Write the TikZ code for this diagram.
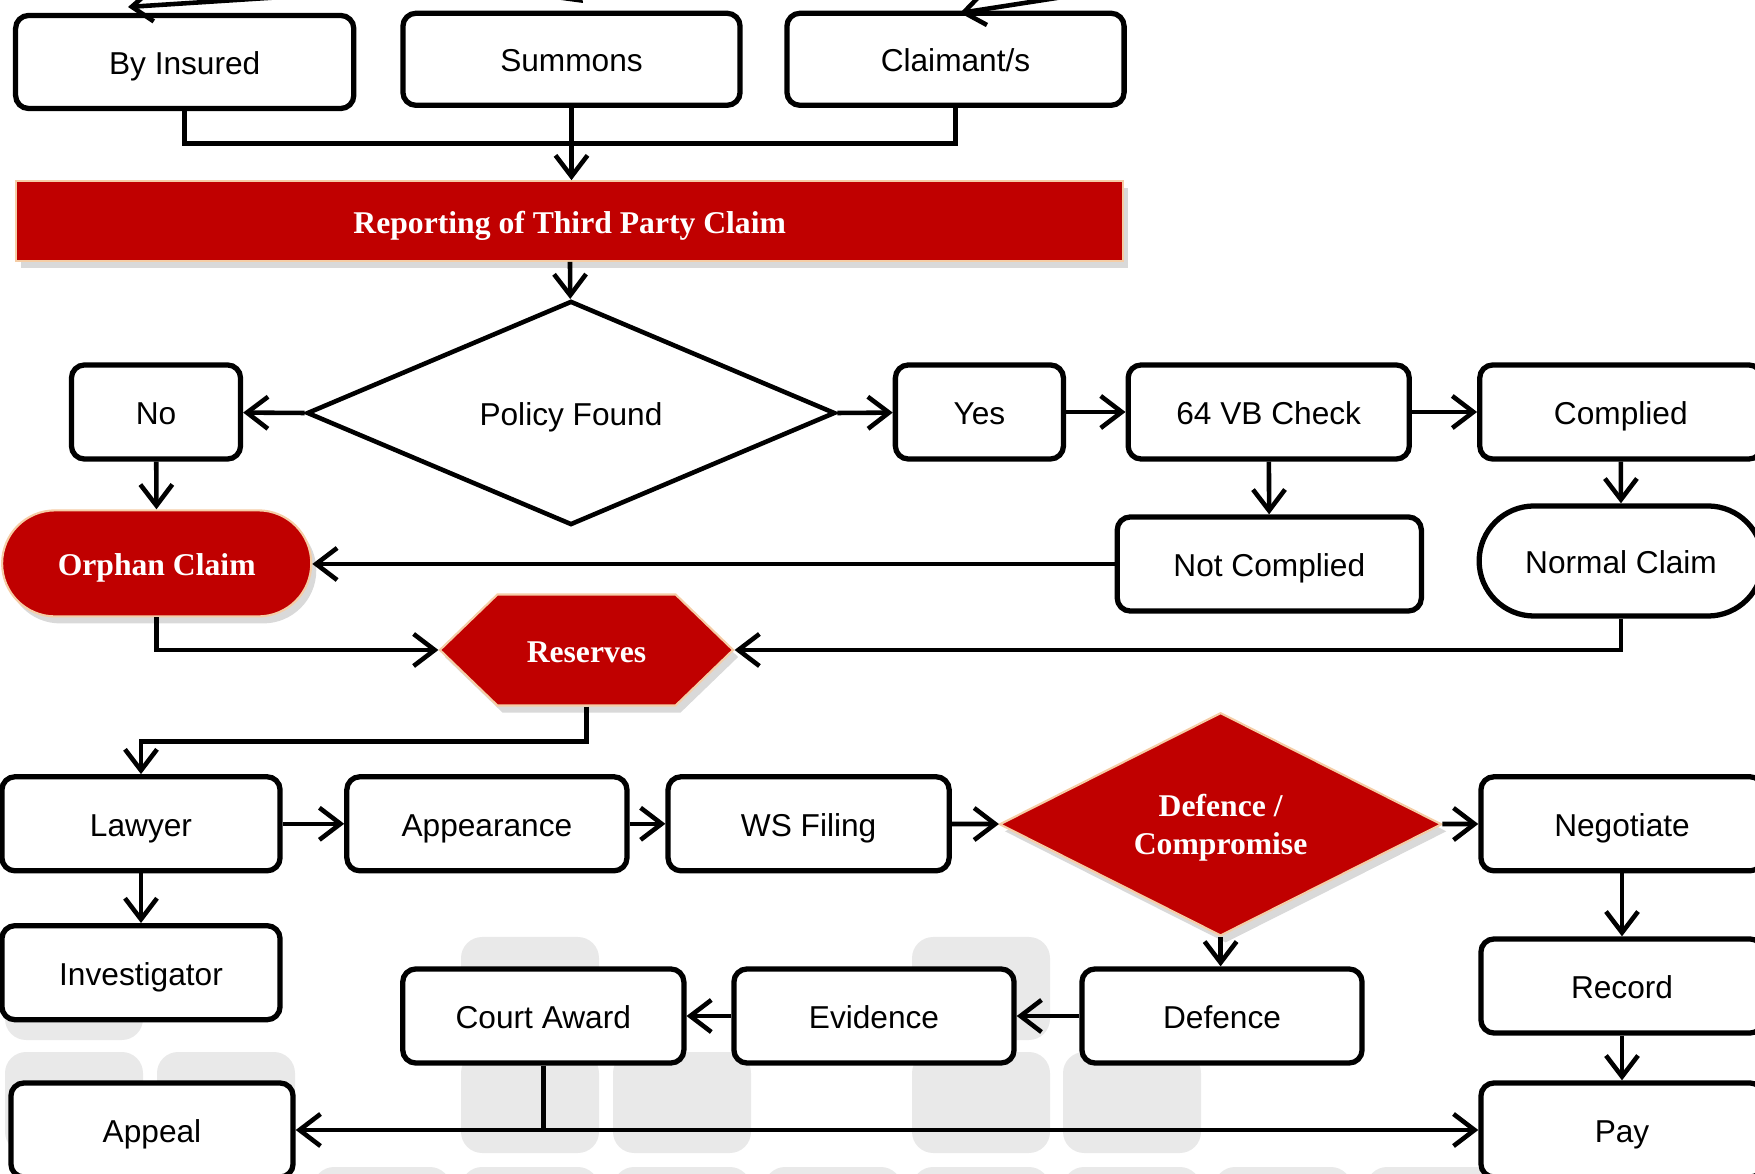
\documentclass[tikz,border=0pt]{standalone}
\usepackage{fontspec}
\setmainfont{Liberation Sans}
\newfontfamily\titlefont{Liberation Serif}
\usetikzlibrary{arrows.meta,positioning,shapes.geometric,shapes.misc,shapes.symbols,shadows}
\definecolor{claimred}{HTML}{C00000}
\definecolor{rim}{HTML}{F5CDA6}
\definecolor{tile}{HTML}{E9E9E9}
\tikzset{box/.style={draw,line width=1.5pt,rounded corners=3.7pt,fill=white,align=center,font=\fontsize{9}{11}\selectfont,text height=7pt,text depth=0pt,minimum width=2.81cm,minimum height=.94cm,inner sep=1pt},
pill/.style={draw,line width=1.5pt,rounded rectangle,fill=white,align=center,font=\fontsize{9}{11}\selectfont,text height=7pt,text depth=0pt,minimum width=3.07cm,minimum height=1.1cm},
redshape/.style={fill=claimred,draw=rim,line width=.6pt,text=white,align=center,font=\titlefont\bfseries\fontsize{9}{11}\selectfont,inner sep=1pt,drop shadow={opacity=.3,shadow xshift=.5mm,shadow yshift=-.7mm}},
arr/.style={-{Straight Barb[length=2.1mm,width=3.2mm]},line width=1.3pt},link/.style={line width=1.3pt}}
\begin{document}
\begin{tikzpicture}[x=0.01cm,y=-0.01cm]
\clip(0,0)rectangle(1755,1174);
% faded tiles of the slide background
\foreach \tx in {5,461,912}{\fill[tile,rounded corners=6pt](\tx,937)rectangle++(138,103);}
\foreach \tx in {5,157,461,613,912,1063}{\fill[tile,rounded corners=6pt](\tx,1052)rectangle++(138,101);}
\foreach \tx in {313,461,613,764,912,1063,1214,1366}{\fill[tile,rounded corners=6pt](\tx,1167)rectangle++(138,101);}
% sources
\node[box,minimum width=3.38cm,minimum height=.93cm](ins)at(184.7,62){By Insured};
\node[box,minimum width=3.37cm,minimum height=.92cm](sum)at(571.5,59.3){Summons};
\node[box,minimum width=3.37cm,minimum height=.92cm](cla)at(955.5,59.3){Claimant/s};
\node[redshape,text height=7pt,text depth=0pt,minimum width=11.06cm,minimum height=.795cm](rep)at(569.7,221){Reporting of Third Party Claim};
\coordinate(t1a)at(283,-3);\coordinate(t1b)at(128,7);
\coordinate(t2a)at(520,-60);\coordinate(t2b)at(583,3);
\coordinate(t3a)at(1063,-3);\coordinate(t3b)at(960,13);
\draw[arr](t1a)--(t1b);\draw[arr](t2a)--(t2b);\draw[arr](t3a)--(t3b);
\coordinate(join)at(571.5,143.3);
\draw[link](ins.south)|-(join)-|(cla.south);
\draw[arr](sum.south)--(sum.south|-rep.north);
% policy check
\node[draw,diamond,line width=1.3pt,fill=white,font=\fontsize{9}{11}\selectfont,text height=7pt,text depth=0pt,minimum width=5.28cm,minimum height=2.24cm,inner sep=0pt](pol)at(571,413){Policy Found};
\node[box,minimum width=1.69cm](no)at(156,412){No};
\node[box,minimum width=1.68cm](yes)at(979.4,412){Yes};
\node[box](vb)at(1268.7,412){64 VB Check};
\node[box,minimum width=2.82cm](comp)at(1620.8,412){Complied};
\node[box,minimum width=3.04cm](notc)at(1269.3,564){Not Complied};
\node[pill](norm)at(1621,561){Normal Claim};
\node[redshape,rounded rectangle,text height=7pt,text depth=0pt,minimum width=3.16cm,minimum height=1.06cm](orph)at(156.7,563.4){Orphan Claim};
\node[redshape,signal,signal to=west and east,signal pointer angle=88,text height=7pt,text depth=0pt,minimum width=2.93cm,minimum height=1.11cm](res)at(586.5,650){Reserves};
\draw[arr](rep)--(pol);
\draw[arr](pol.west)--(no);\draw[arr](pol.east)--(yes);
\draw[arr](yes)--(vb);\draw[arr](vb)--(comp);
\draw[arr](no)--(orph);\draw[arr](vb)--(notc);\draw[arr](comp)--(norm);
\draw[arr](notc.west)--(orph.east|-notc.west);
\draw[arr](orph.south)|-(res.west);\draw[arr](norm.south)|-(res.east);
% litigation
\node[box,minimum width=2.78cm](law)at(141,823.8){Lawyer};
\node[box,minimum width=2.8cm](app)at(486.9,823.8){Appearance};
\node[box](ws)at(808.6,823.8){WS Filing};
\node[redshape,diamond,aspect=2,text depth=0pt,minimum width=4.42cm,minimum height=2.23cm,inner sep=0pt](dc)at(1220.6,824.3){Defence /\\Compromise};
\node[box,minimum width=2.82cm](neg)at(1622,823.8){Negotiate};
\node[box,minimum width=2.78cm](inv)at(141,972.7){Investigator};
\node[box,minimum width=2.82cm](rec)at(1622,986){Record};
\node[box,minimum width=2.8cm](def)at(1222,1016){Defence};
\node[box,minimum width=2.8cm](evi)at(874,1016){Evidence};
\node[box](ca)at(543.3,1016){Court Award};
\node[box,minimum width=2.82cm](apl)at(152,1130){Appeal};
\node[box,minimum width=2.82cm](pay)at(1622,1130){Pay};
\draw[arr](res.south)--++(0,35)-|(law.north);
\draw[arr](law)--(app);\draw[arr](app)--(ws);\draw[arr](ws)--(dc);\draw[arr](dc)--(neg);
\draw[arr](law)--(inv);\draw[arr](neg)--(rec);\draw[arr](rec)--(pay);
\draw[arr](dc.south)--(dc.south|-def.north);\draw[arr](def)--(evi);\draw[arr](evi)--(ca);
\coordinate(split)at(ca.south|-apl.east);
\draw[link](ca.south)--(split);
\draw[arr](split)--(apl.east);\draw[arr](split)--(pay.west);
\end{tikzpicture}
\end{document}
